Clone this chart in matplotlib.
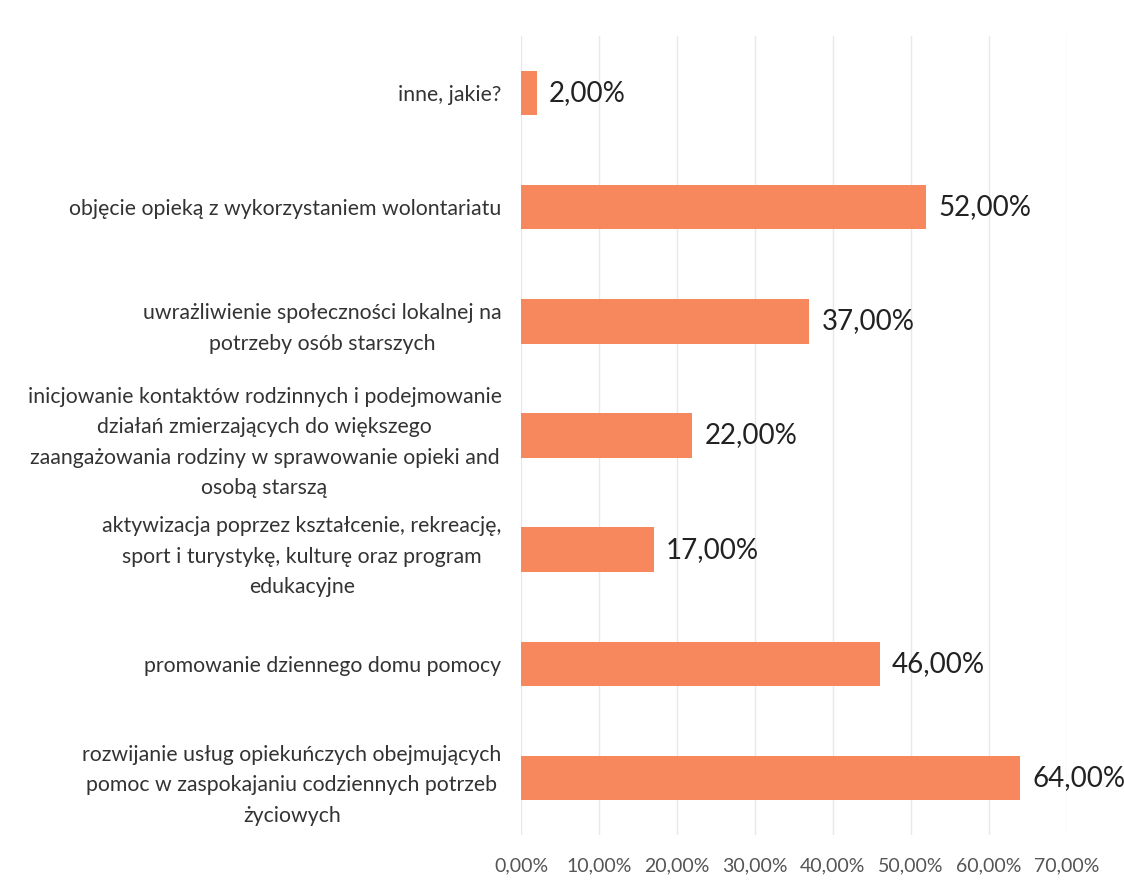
import matplotlib
matplotlib.use("Agg")
import matplotlib.pyplot as plt
from matplotlib.ticker import FuncFormatter

categories = [
    "rozwijanie usług opiekuńczych obejmujących\npomoc w zaspokajaniu codziennych potrzeb\nżyciowych",
    "promowanie dziennego domu pomocy",
    "aktywizacja poprzez kształcenie, rekreację,\nsport i turystykę, kulturę oraz program\nedukacyjne",
    "inicjowanie kontaktów rodzinnych i podejmowanie\ndziałań zmierzających do większego\nzaangażowania rodziny w sprawowanie opieki and\nosobą starszą",
    "uwrażliwienie społeczności lokalnej na\npotrzeby osób starszych",
    "objęcie opieką z wykorzystaniem wolontariatu",
    "inne, jakie?",
]
values = [64, 46, 17, 22, 37, 52, 2]
x_ticks = [0, 10, 20, 30, 40, 50, 60, 70]

plt.rcParams["font.family"] = ["Lato", "DejaVu Sans"]

fig = plt.figure(figsize=(11.24, 8.88), dpi=100)
ax = fig.add_axes([0.4635, 0.0597, 0.4855, 0.8998])

pos = list(range(len(categories)))
ax.barh(pos, values, height=0.39, color="#f7875c", zorder=3)
for y, v in zip(pos, values):
    ax.text(v + 1.6, y, f"{v:.2f}%".replace(".", ","), va="center", ha="left",
            fontsize=20, color="#222222")

ax.set_xlim(0, 70)
ax.set_ylim(-0.5, len(categories) - 0.5)
ax.set_xticks(x_ticks)
ax.xaxis.set_major_formatter(FuncFormatter(lambda x, _: f"{x:.2f}%".replace(".", ",")))
ax.set_yticks(pos)
ax.set_yticklabels(categories, multialignment="center", linespacing=1.65,
                   fontsize=15.3, color="#333333")
ax.tick_params(axis="x", labelsize=14, colors="#555555", length=0, pad=16)
ax.tick_params(axis="y", length=0, pad=14)
ax.grid(axis="x", color="#e8e8e8", linewidth=1, zorder=0)
for s in ax.spines.values():
    s.set_visible(False)

fig.savefig("out.png", dpi=100, facecolor="white")
